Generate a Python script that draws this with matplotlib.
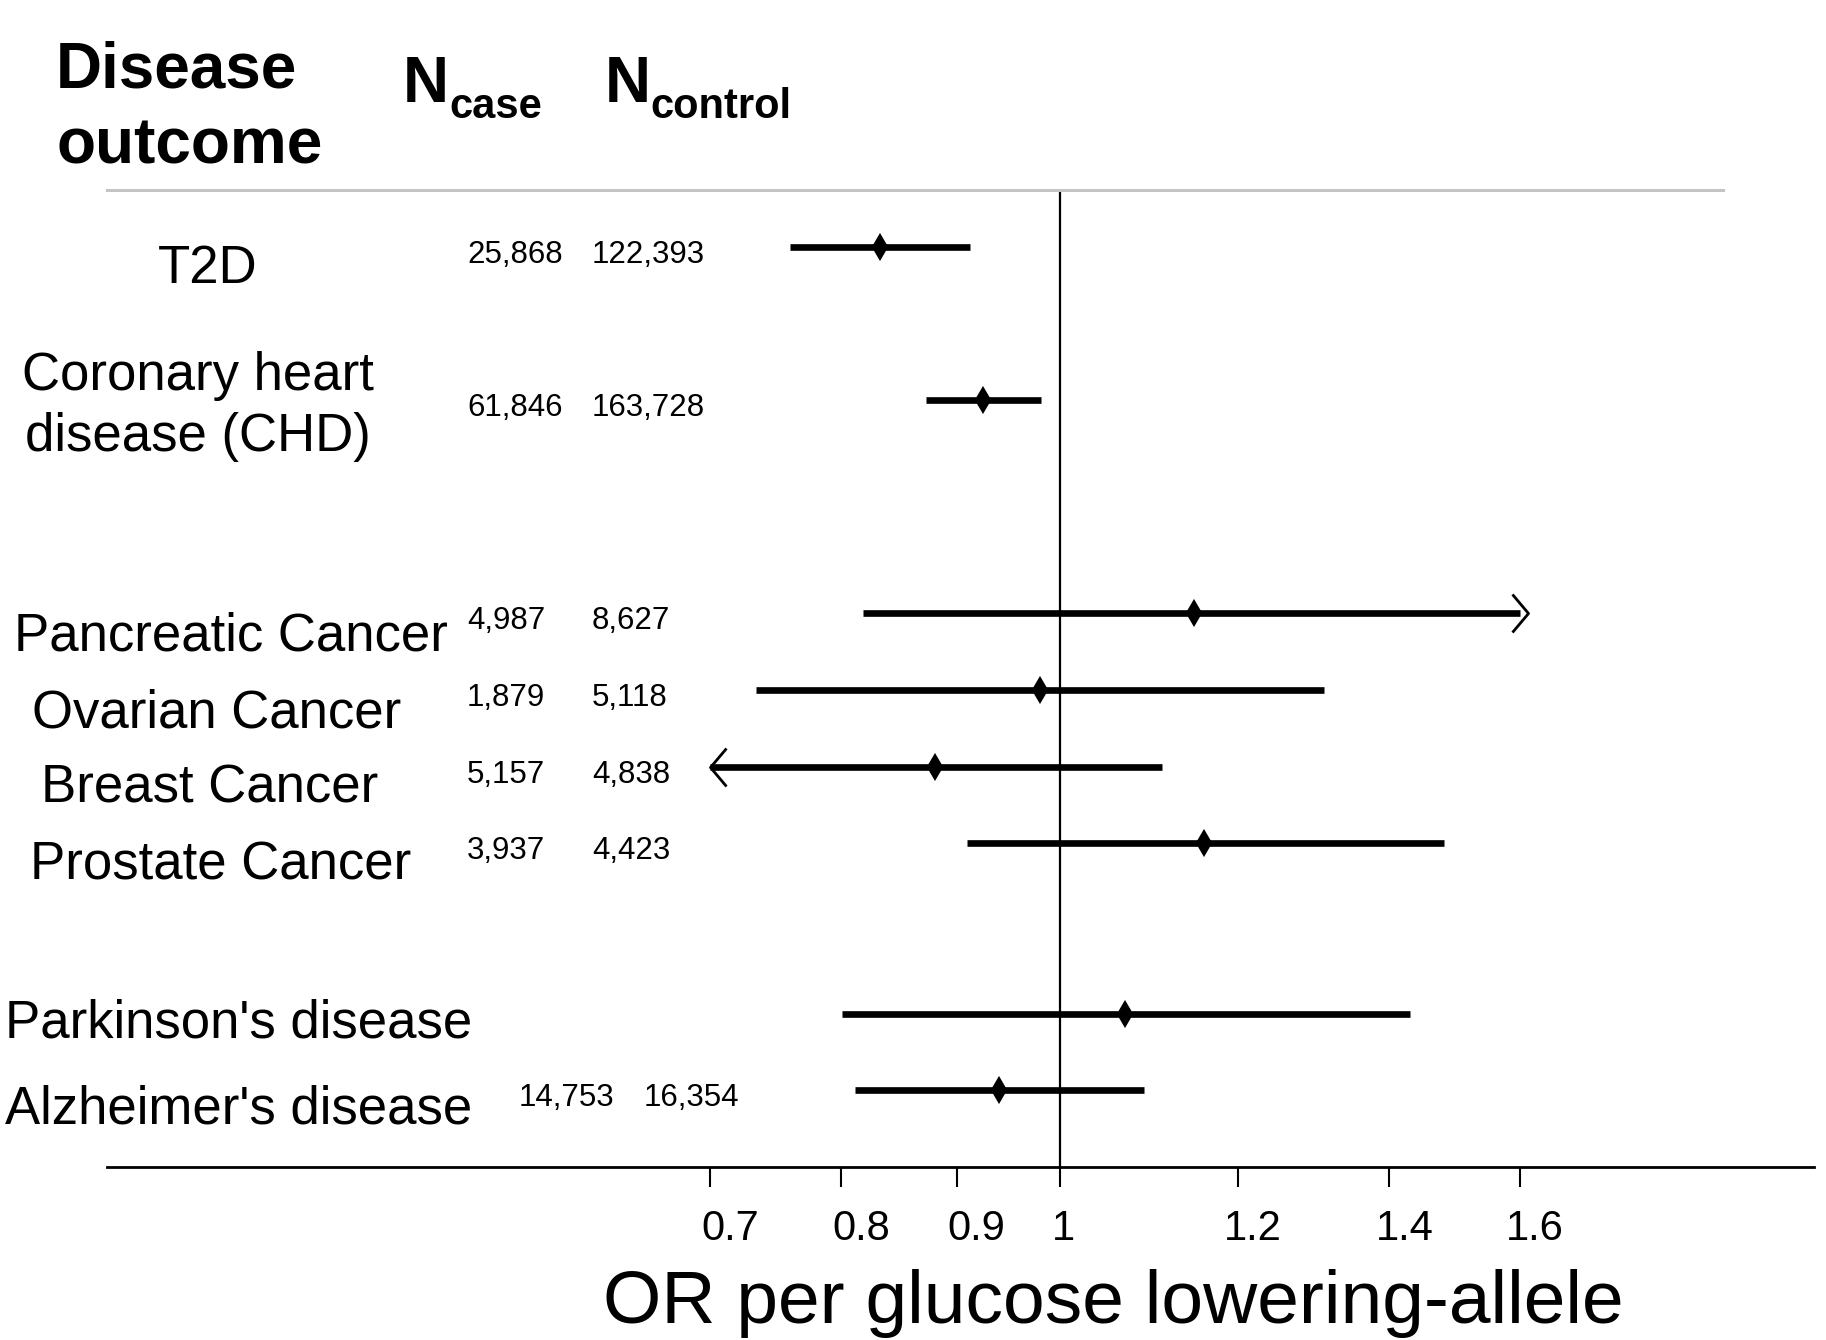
import matplotlib
matplotlib.use("Agg")
import matplotlib.pyplot as plt
from matplotlib import font_manager as fm
from matplotlib import transforms
from matplotlib.path import Path
from matplotlib.ticker import NullLocator

# ---------------- data ----------------
outcomes = ["T2D", "Coronary heart\ndisease (CHD)", "Pancreatic Cancer", "Ovarian Cancer",
            "Breast Cancer", "Prostate Cancer", "Parkinson's disease", "Alzheimer's disease"]
n_case = ["25,868", "61,846", "4,987", "1,879", "5,157", "3,937", "", "14,753"]
n_control = ["122,393", "163,728", "8,627", "5,118", "4,838", "4,423", "", "16,354"]
or_est = [0.832, 0.925, 1.147, 0.980, 0.880, 1.159, 1.069, 0.940]
ci_lo = [0.759, 0.872, 0.818, 0.733, 0.700, 0.910, 0.801, 0.811]
ci_hi = [0.912, 0.981, 1.600, 1.310, 1.110, 1.481, 1.430, 1.090]
truncated = ["", "", "hi", "", "lo", "", "", ""]
tick_values = [0.7, 0.8, 0.9, 1, 1.2, 1.4, 1.6]
tick_labels = ["0.7", "0.8", "0.9", "1", "1.2", "1.4", "1.6"]
xlabel = "OR per glucose lowering-allele"

# ---------------- layout ----------------
W, H, DPI = 1826, 1340, 100
row_pos = [12, 10, 7.22, 6.22, 5.22, 4.22, 2, 1]
label_x_px = [208, 198, 231, 217, 210, 221, 239, 239]
label_base_dy = [36, -10, 37, 37, 36, 36, 24, 33]
line2_gap = 61
case_x_px = [467, 467, 467, 467, 467, 467, 467, 519]
ctrl_x_px = [592, 592, 592, 592, 592, 592, 592, 644]
n_base_dy = 16
tick_dx_px = [20, 20, 20, 4, 14, 15, 15]


def has_font(name):
    try:
        fm.findfont(fm.FontProperties(family=name), fallback_to_default=False)
        return True
    except Exception:
        return False


plt.rcParams['font.family'] = ['Liberation Sans', 'DejaVu Sans']

fig = plt.figure(figsize=(W / DPI, H / DPI), dpi=DPI)
ax_left, ax_right, ax_bottom, ax_top = 107, 1814, 1167, 190
ax = fig.add_axes([ax_left / W, 1 - ax_bottom / H, (ax_right - ax_left) / W, (ax_bottom - ax_top) / H])
ax.set_xscale('log')
ax.set_xlim(0.378, 2.16)
ax.set_ylim(0, 12.74)

for s in ['left', 'right', 'top']:
    ax.spines[s].set_visible(False)
ax.spines['bottom'].set_linewidth(2.0)
ax.set_yticks([])
ax.set_xticks(tick_values)
ax.set_xticklabels(tick_labels, fontsize=30)
ax.xaxis.set_minor_locator(NullLocator())
ax.tick_params(axis='x', which='major', direction='out', length=14.4, width=1.5, pad=16)
for lab, dx in zip(ax.get_xticklabels(), tick_dx_px):
    lab.set_transform(lab.get_transform() + transforms.ScaledTranslation(dx / DPI, 0, fig.dpi_scale_trans))

# top grey rule and reference line
ax.axhline(12.74, xmin=0, xmax=(1723 - ax_left) / (ax_right - ax_left), color='#c4c4c4', lw=2.2, clip_on=False)
ax.axvline(1.0, color='black', lw=1.6, zorder=1)

# CI lines and point estimates
chev_r = Path([(-8, 19), (8, 0), (-8, -19)], [Path.MOVETO, Path.LINETO, Path.LINETO])
chev_l = Path([(16, 19), (0, 0), (16, -19)], [Path.MOVETO, Path.LINETO, Path.LINETO])
for y, lo, hi, est, tr in zip(row_pos, ci_lo, ci_hi, or_est, truncated):
    ax.plot([lo, hi], [y, y], color='black', lw=4.8, solid_capstyle='butt', zorder=2)
    ax.plot([est], [y], marker='d', ms=12, color='black', mew=1.5, zorder=3)
    if tr == 'hi':
        ax.plot([hi], [y], marker=chev_r, ms=27.4, mfc='none', mec='black', mew=2, zorder=3)
    elif tr == 'lo':
        ax.plot([lo], [y], marker=chev_l, ms=27.4, mfc='none', mec='black', mew=2, zorder=3)

# row labels and counts
blend = transforms.blended_transform_factory(fig.transFigure, ax.transData)


def off(dy_px):
    return blend + transforms.ScaledTranslation(0, -dy_px / DPI, fig.dpi_scale_trans)


for i, y in enumerate(row_pos):
    for j, line in enumerate(outcomes[i].split('\n')):
        ax.text(label_x_px[i] / W, y, line, transform=off(label_base_dy[i] + j * line2_gap),
                ha='center', va='baseline', fontsize=38, clip_on=False)
    if n_case[i]:
        ax.text(case_x_px[i] / W, y, n_case[i], transform=off(n_base_dy),
                ha='left', va='baseline', fontsize=22.5, clip_on=False)
    if n_control[i]:
        ax.text(ctrl_x_px[i] / W, y, n_control[i], transform=off(n_base_dy),
                ha='left', va='baseline', fontsize=22.5, clip_on=False)


# headers
def ftxt(x_px, y_px, s, **kw):
    fig.text(x_px / W, 1 - y_px / H, s, va='baseline', **kw)


ftxt(56, 87, "Disease", fontsize=46, fontweight='bold', ha='left')
ftxt(56, 163, "outcome", fontsize=46, fontweight='bold', ha='left')
ftxt(403, 102, "N", fontsize=46, fontweight='bold', ha='left')
ftxt(605, 102, "N", fontsize=46, fontweight='bold', ha='left')
if has_font('Liberation Sans Narrow'):
    sub_kw = dict(family=['Liberation Sans Narrow', 'DejaVu Sans'], fontsize=37.5, fontweight='bold')
else:
    sub_kw = dict(fontsize=30, fontweight='bold')
ftxt(449, 118, "case", ha='left', **sub_kw)
ftxt(650, 118, "control", ha='left', **sub_kw)

ftxt(1113, 1323, xlabel, fontsize=54, ha='center')

fig.savefig("out.png", dpi=DPI, facecolor='white')
